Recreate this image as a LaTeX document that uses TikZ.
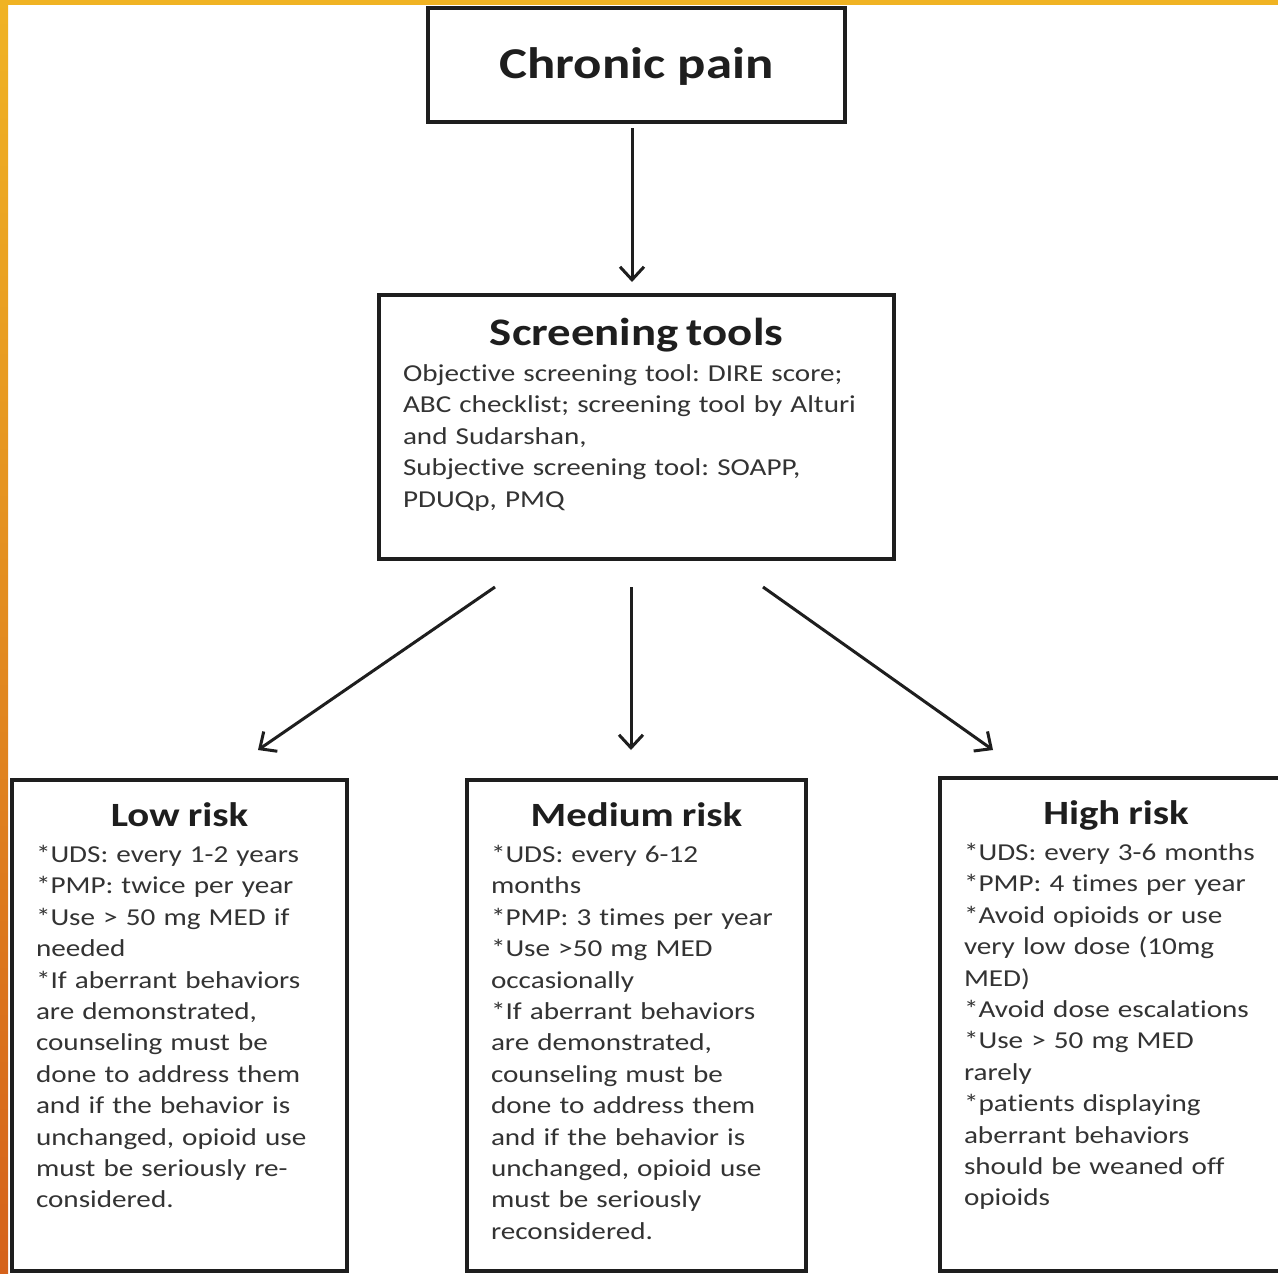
\documentclass[tikz,border=0pt]{standalone}
\usepackage{fontspec}
\setmainfont{Carlito}[FakeStretch=1.2,Ligatures=NoCommon]
\usepackage{xcolor}
\usepackage{tikz}
\usetikzlibrary{arrows.meta,positioning}
\definecolor{Amber}{HTML}{F0B323}
\definecolor{Ember}{HTML}{D5621B}
\definecolor{Ink}{HTML}{1E1E1E}
\definecolor{Graphite}{HTML}{333333}
\frenchspacing
\newcommand{\bodyfont}{\fontsize{24.3}{31.4}\selectfont}
\newcommand{\boxtitle}[2]{{\centering\fontsize{#1}{#1}\selectfont\bfseries\color{Ink}#2\par}\vspace{5pt}}

\begin{document}
\begin{tikzpicture}[
    x=1pt,y=-1pt,
    box/.style={draw=Ink,line width=3.5pt,outer sep=0pt,fill=white},
    painbox/.style={box,minimum width=417pt,minimum height=114pt,text depth=4pt,
      font=\fontsize{44}{50}\selectfont\bfseries,text=Ink},
    toolbox/.style={box,anchor=north,text width=467pt,inner xsep=24pt,inner ysep=0pt,
      align=left,font=\bodyfont,text=Graphite,text height=50pt,text depth=214pt},
    riskbox/.style={box,anchor=north,inner xsep=24pt,inner ysep=0pt,
      align=left,font=\bodyfont,text=Graphite,text height=46pt,text depth=445pt},
    arrow/.style={-{Straight Barb[length=13pt,width=24pt]},line width=3pt,draw=Ink}
]
\useasboundingbox (0,0) rectangle (1278,1274);
\clip (0,0) rectangle (1278,1274);
\fill[white] (0,0) rectangle (1278,1274);

\node[painbox] (pain) at (636.5,65) {Chronic pain};

\node[toolbox] (screen) at (636.5,295) {\boxtitle{39}{Screening tools}
Objective screening tool: DIRE score;\\
ABC checklist; screening tool by Alturi\\
and Sudarshan,\\
Subjective screening tool: SOAPP,\\
PDUQp, PMQ};

\node[riskbox,text width=287pt] (low) at (179.5,780) {\boxtitle{34}{Low risk}
*UDS: every 1-2 years\par
*PMP: twice per year\par
*Use > 50 mg MED if\par
needed\par
*If aberrant behaviors\par
are demonstrated,\par
counseling must be\par
done to address them\par
and if the behavior is\par
unchanged, opioid use\par
must be seriously re-\par
considered.};

\node[riskbox,text width=291pt] (medium) at (636.5,780) {\boxtitle{34}{Medium risk}
*UDS: every 6-12\par
months\par
*PMP: 3 times per year\par
*Use >50 mg MED\par
occasionally\par
*If aberrant behaviors\par
are demonstrated,\par
counseling must be\par
done to address them\par
and if the behavior is\par
unchanged, opioid use\par
must be seriously\par
reconsidered.};

\node[riskbox,text width=304pt,text depth=447pt] (high) at (1116,778) {\boxtitle{34}{High risk}
*UDS: every 3-6 months\par
*PMP: 4 times per year\par
*Avoid opioids or use\par
very low dose (10mg\par
MED)\par
*Avoid dose escalations\par
*Use > 50 mg MED\par
rarely\par
*patients displaying\par
aberrant behaviors\par
should be weaned off\par
opioids};

\draw[arrow] ([xshift=-4.5pt,yshift=-6pt]pain.south) -- ([xshift=-4.5pt,yshift=13pt]screen.north);
\draw[arrow] ([xshift=-141.5pt,yshift=-28pt]screen.south) -- ([xshift=78.5pt,yshift=30pt]low.north);
\draw[arrow] ([xshift=-5.5pt,yshift=-28pt]screen.south) -- ([xshift=-5.5pt,yshift=30pt]medium.north);
\draw[arrow] ([xshift=126.5pt,yshift=-28pt]screen.south) -- ([xshift=-123pt,yshift=28pt]high.north);

\shade[top color=Amber,bottom color=Ember] (0,0) rectangle (8,1274);
\fill[Amber] (0,0) rectangle (1278,5);
\end{tikzpicture}
\end{document}
